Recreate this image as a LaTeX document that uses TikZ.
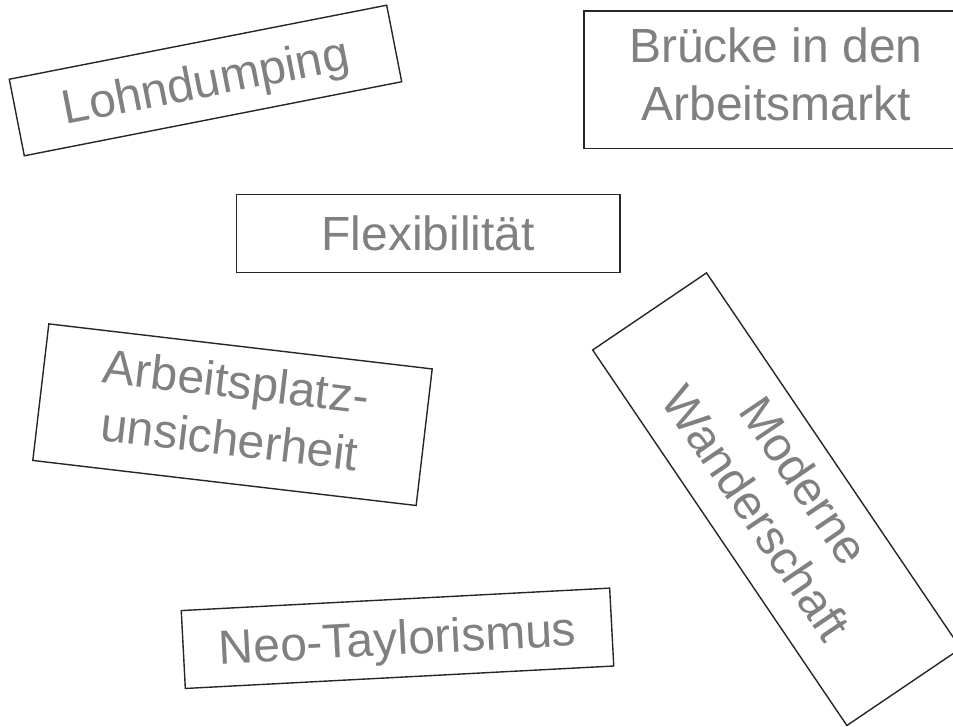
\documentclass[tikz,border=0pt]{standalone}
\usepackage{fontspec}
\setmainfont{Liberation Sans}
\newcommand\boxStrut{\rule[-0.212em]{0pt}{1.117em}}

\begin{document}
\begin{tikzpicture}
    [x = 1pt, y = 1pt,
     wordBox/.style = {rectangle, draw = black!85, line width = 1.4pt,
                       inner sep = 0pt, text = black!50, align = center,
                       font = \fontsize{48}{58}\selectfont,
                       execute at begin node = \boxStrut,
                       execute at end node = \boxStrut},
     flatBox/.style = {wordBox, minimum height = 78pt},
     tallBox/.style = {wordBox, minimum height = 137.5pt}]

    \useasboundingbox (0,0) rectangle (953,726);
    \clip (0,0) rectangle (953,726);

    \node at (205.5,645.5) [flatBox, rotate = 11.1,
                            minimum width = 384.6pt] (lohn) {Lohndumping};
    \node at (776,646.3)   [tallBox,
                            minimum width = 384pt]   (bruecke) {Brücke in den\\Arbeitsmarkt};
    \node at (428.3,492.2) [flatBox,
                            minimum width = 383.3pt] (flex) {Flexibilität};
    \node at (232.5,311.3) [tallBox, rotate = -6.7,
                            minimum width = 386pt]   (unsicher) {Arbeitsplatz-\\unsicherheit};
    \node at (776.7,226.8) [tallBox, rotate = -55.9,
                            minimum width = 453.5pt] (wander) {Moderne\\Wanderschaft};
    \node at (397.5,87.7)  [flatBox, rotate = 3.0,
                            minimum width = 429pt]   (taylor) {Neo-Taylorismus};
\end{tikzpicture}
\end{document}
